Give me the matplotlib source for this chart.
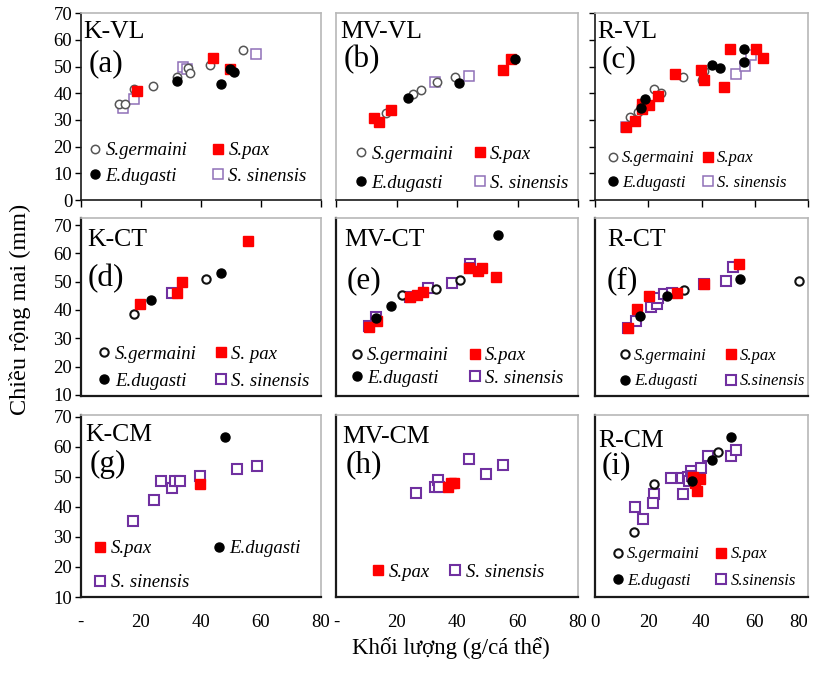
import matplotlib
matplotlib.use('Agg')
import matplotlib.pyplot as plt
from matplotlib.ticker import FixedLocator

plt.rcParams['font.family'] = ['Liberation Serif', 'DejaVu Serif']

# ---- data: (weight g, carapace width mm) ----
kvl_ger = [(12.7, 36.0), (14.9, 36.0), (17.7, 41.6), (24.0, 42.9), (32.2, 46.0),
           (35.6, 49.4), (36.4, 47.6), (43.2, 50.5), (54.0, 56.1)]
kvl_pax = [(18.9, 41.0), (44.0, 53.1), (49.6, 49.2)]
kvl_dug = [(32.1, 44.6), (46.8, 43.5), (49.7, 49.1), (51.1, 47.9)]
kvl_sin = [(14.3, 34.6), (17.8, 37.9), (34.2, 50.0), (35.4, 49.0), (58.4, 54.9)]

mvvl_ger = [(16.4, 32.7), (25.6, 39.9), (28.0, 41.1), (33.3, 44.3), (39.3, 46.2)]
mvvl_pax = [(12.7, 30.9), (14.2, 29.4), (18.1, 33.9), (55.3, 48.6), (57.9, 53.0)]
mvvl_dug = [(23.8, 38.1), (40.8, 44.0), (59.2, 53.0)]
mvvl_sin = [(32.7, 44.3), (43.9, 46.5)]

rvl_ger = [(13.2, 31.0), (16.0, 32.9), (22.0, 41.6), (24.8, 40.0), (33.0, 46.0),
           (40.9, 48.4), (40.3, 45.0)]
rvl_pax = [(11.6, 27.5), (15.1, 29.8), (17.6, 34.0), (17.6, 35.9), (20.4, 35.7),
           (23.5, 39.1), (30.2, 47.3), (39.9, 48.7), (40.9, 45.0), (48.4, 42.5),
           (50.8, 56.6), (60.3, 56.6), (63.1, 53.1)]
rvl_dug = [(17.2, 34.4), (18.9, 37.9), (43.9, 50.6), (47.0, 49.6), (55.8, 56.7), (55.8, 51.9)]
rvl_sin = [(11.6, 27.5), (53.1, 47.1), (56.2, 50.4), (58.7, 54.4)]

kct_ger = [(17.8, 38.6), (41.7, 51.0)]
kct_pax = [(19.7, 42.0), (32.2, 46.1), (33.7, 50.0), (55.6, 64.5)]
kct_dug = [(23.3, 43.5), (46.9, 53.2)]
kct_sin = [(30.6, 46.1)]

mvct_ger = [(21.7, 45.3), (33.1, 47.4), (41.0, 50.6)]
mvct_pax = [(11.0, 34.0), (13.6, 36.2), (24.3, 44.5), (26.7, 45.3), (28.7, 46.4),
            (44.1, 55.0), (47.1, 53.7), (48.4, 54.9), (52.9, 51.5)]
mvct_dug = [(13.2, 37.0), (18.1, 41.4), (53.4, 66.5)]
mvct_sin = [(11.0, 34.2), (13.2, 37.4), (24.3, 44.4), (30.5, 47.6), (38.5, 49.6),
            (44.3, 56.1), (44.2, 54.8)]

rct_ger = [(33.4, 47.0), (76.7, 50.1)]
rct_pax = [(12.5, 33.7), (15.6, 40.2), (20.3, 44.9), (30.7, 45.9), (40.9, 49.0), (53.9, 56.1)]
rct_dug = [(16.8, 37.8), (27.0, 44.9), (54.3, 51.1)]
rct_sin = [(12.5, 33.7), (15.3, 36.1), (21.0, 41.2), (23.2, 42.0), (23.7, 44.3),
           (25.9, 45.5), (29.0, 45.9), (40.9, 49.0), (49.3, 50.2), (51.7, 55.2)]

kcm_pax = [(39.8, 47.5)]
kcm_dug = [(48.1, 63.2)]
kcm_sin = [(17.6, 35.3), (24.4, 42.3), (26.7, 48.5), (30.3, 46.4), (31.3, 48.5),
           (33.1, 48.5), (39.7, 50.4), (51.9, 52.6), (58.7, 53.5)]

mvcm_pax = [(37.0, 46.7), (38.1, 47.8), (38.9, 48.0)]
mvcm_sin = [(26.4, 44.7), (32.8, 46.7), (33.7, 49.1), (33.9, 46.7), (44.1, 56.0),
            (49.7, 50.8), (55.2, 54.0)]

rcm_ger = [(14.7, 31.7), (22.0, 47.5), (46.2, 58.1)]
rcm_pax = [(38.3, 45.3), (39.3, 49.3), (37.4, 48.0), (36.8, 50.0)]
rcm_dug = [(50.9, 63.4), (44.1, 55.7), (36.4, 48.5)]
rcm_sin = [(15.1, 40.1), (18.0, 36.1), (22.0, 44.2), (21.8, 41.2), (28.6, 49.7),
           (32.6, 49.7), (33.0, 44.2), (35.1, 50.0), (36.1, 51.8), (35.3, 48.5),
           (36.5, 50.3), (39.8, 53.0), (42.5, 57.0), (51.0, 57.0), (52.9, 59.0)]

panel_names = ['K-VL', 'MV-VL', 'R-VL', 'K-CT', 'MV-CT', 'R-CT', 'K-CM', 'MV-CM', 'R-CM']
panel_letters = ['(a)', '(b)', '(c)', '(d)', '(e)', '(f)', '(g)', '(h)', '(i)']

# series per panel, in legend order (matplotlib fills legend column by column)
panel_series = [
    [('ger', kvl_ger, 'S.germaini'), ('dug', kvl_dug, 'E.dugasti'),
     ('pax', kvl_pax, 'S.pax'), ('sin', kvl_sin, 'S. sinensis')],
    [('ger', mvvl_ger, 'S.germaini'), ('dug', mvvl_dug, 'E.dugasti'),
     ('pax', mvvl_pax, 'S.pax'), ('sin', mvvl_sin, 'S. sinensis')],
    [('ger', rvl_ger, 'S.germaini'), ('dug', rvl_dug, 'E.dugasti'),
     ('pax', rvl_pax, 'S.pax'), ('sin', rvl_sin, 'S. sinensis')],
    [('ger', kct_ger, 'S.germaini'), ('dug', kct_dug, 'E.dugasti'),
     ('pax', kct_pax, 'S. pax'), ('sin', kct_sin, 'S. sinensis')],
    [('ger', mvct_ger, 'S.germaini'), ('dug', mvct_dug, 'E.dugasti'),
     ('pax', mvct_pax, 'S.pax'), ('sin', mvct_sin, 'S. sinensis')],
    [('ger', rct_ger, 'S.germaini'), ('dug', rct_dug, 'E.dugasti'),
     ('pax', rct_pax, 'S.pax'), ('sin', rct_sin, 'S.sinensis')],
    [('pax', kcm_pax, 'S.pax'), ('sin', kcm_sin, 'S. sinensis'),
     ('dug', kcm_dug, 'E.dugasti')],
    [('pax', mvcm_pax, 'S.pax'), ('sin', mvcm_sin, 'S. sinensis')],
    [('ger', rcm_ger, 'S.germaini'), ('dug', rcm_dug, 'E.dugasti'),
     ('pax', rcm_pax, 'S.pax'), ('sin', rcm_sin, 'S.sinensis')],
]

x_ticks = [0, 20, 40, 60, 80]
x_labels_dash = ['-', '20', '40', '60', '80']
x_labels_zero = ['0', '20', '40', '60', '80']

# ---- layout (pixels of an 815x673 canvas) ----
W, H = 815, 673
col_px = [(80.5, 321), (336, 578), (595, 808)]
row_px = [(13.3, 200), (218, 396.2), (415.2, 597)]
row_ylim = [(0, 70), (9.5, 72.5), (10, 70.5)]
row_yticks = [range(0, 71, 10), range(10, 71, 10), range(10, 71, 10)]
# (name x, name y, letter x, letter y) in axes fraction
text_pos = [(0.01, 0.96, 0.035, 0.81), (0.017, 0.96, 0.03, 0.83), (0.01, 0.96, 0.03, 0.83),
            (0.03, 0.94, 0.03, 0.74), (0.033, 0.94, 0.045, 0.73), (0.06, 0.94, 0.055, 0.73),
            (0.02, 0.95, 0.04, 0.81), (0.025, 0.94, 0.04, 0.81), (0.014, 0.92, 0.033, 0.80)]
# legend: (anchor x, anchor y, column spacing, label spacing)
legend_pos = [(0.015, 0.05, 1.33, 0.47), (0.057, 0.014, 1.12, 0.63), (0.036, 0.02, 0.48, 0.53),
              (0.053, 0.004, 1.0, 0.52), (0.04, 0.02, 1.07, 0.31), (0.092, 0.01, 1.14, 0.59),
              (0.036, 0.0, 1.28, 0.9), (0.127, 0.058, 1.07, 0.5), (0.06, 0.015, 1.0, 0.65)]

def style(kind, row):
    if kind == 'ger':
        ec = '#555555' if row == 0 else '#111111'
        return dict(marker='o', ms=6, mfc='white', mec=ec, mew=1.1 if row == 0 else 1.5, ls='none')
    if kind == 'pax':
        return dict(marker='s', ms=6.5, mfc='#ff0000', mec='#ff0000', ls='none')
    if kind == 'dug':
        return dict(marker='o', ms=6.5, mfc='black', mec='black', ls='none')
    ec = '#9070b8' if row == 0 else '#7030a0'
    return dict(marker='s', ms=6.5, mfc='white', mec=ec, mew=1.1 if row == 0 else 1.5, ls='none')

fig = plt.figure(figsize=(W / 100, H / 100), dpi=100)
grid_col = '#9fc5e0'

for i in range(9):
    r, c = divmod(i, 3)
    x0, x1 = col_px[c]
    y0, y1 = row_px[r]
    ax = fig.add_axes([x0 / W, 1 - y1 / H, (x1 - x0) / W, (y1 - y0) / H])
    ax.set_xlim(0, 80)
    ax.set_ylim(*row_ylim[r])

    # draw species (S. sinensis under the red squares where they overlap)
    order = sorted(panel_series[i], key=lambda s: {'sin': 0, 'ger': 1, 'pax': 2, 'dug': 3}[s[0]])
    handles = {}
    for kind, pts, lab in order:
        xs = [p[0] for p in pts]
        ys = [p[1] for p in pts]
        h, = ax.plot(xs, ys, label=lab, zorder=3, **style(kind, r))
        handles[lab] = h
    labs = [s[2] for s in panel_series[i]]
    hs = [handles[l] for l in labs]

    lx0, ly0, cs, ls = legend_pos[i]
    ax.legend(hs, labs, ncol=2, loc='lower left', bbox_to_anchor=(lx0, ly0),
              frameon=False, prop={'style': 'italic', 'size': 12 if c == 2 else 13.5},
              handlelength=0.6, handletextpad=0.25, columnspacing=cs,
              labelspacing=ls, borderpad=0.2, borderaxespad=0.1)

    # dashed guide grid
    ax.xaxis.set_major_locator(FixedLocator(x_ticks))
    ax.yaxis.set_major_locator(FixedLocator(list(row_yticks[r])))
    ax.xaxis.set_minor_locator(FixedLocator([20, 40, 60]))
    ax.yaxis.set_minor_locator(FixedLocator([30, 60]))
    ax.grid(False)
    ax.grid(True, which='minor', color=grid_col, ls=(0, (3, 3)), lw=0.9, zorder=0)
    ax.tick_params(which='minor', length=0)

    # ticks and labels
    ax.tick_params(axis='both', which='major', labelsize=13.5, direction='out', length=4, width=1)
    if c == 0:
        ax.tick_params(axis='y', labelleft=True, pad=2)
    else:
        ax.tick_params(axis='y', labelleft=False, length=4 if (r == 0 and c == 2) else 0)
    if r == 0:
        ax.tick_params(axis='x', labelbottom=False, length=5)
    elif r == 1:
        ax.tick_params(axis='x', labelbottom=False, length=0)
    else:
        ax.tick_params(axis='x', length=0, pad=12)
        tl = ax.set_xticklabels(x_labels_zero if c == 2 else x_labels_dash)
        if c == 2:
            tl[-1].set_ha('right')

    for side in ('top', 'right'):
        ax.spines[side].set_color('#b8b8b8')
        ax.spines[side].set_linewidth(1.2)
    for side in ('left', 'bottom'):
        ax.spines[side].set_color('#1a1a1a')
        ax.spines[side].set_linewidth(1.6 if r > 0 else 1.2)
    if r == 0 and c == 1:
        ax.spines['left'].set_color('#b8b8b8')

    nx, ny, lx, ly = text_pos[i]
    ax.text(nx, ny, panel_names[i], transform=ax.transAxes, va='top', ha='left', fontsize=18.5)
    ax.text(lx, ly, panel_letters[i], transform=ax.transAxes, va='top', ha='left', fontsize=22.5)

fig.text(0.024, 0.54, 'Chiều rộng mai (mm)', rotation=90, va='center', ha='center', fontsize=17.5)
fig.text(0.553, 0.037, 'Khối lượng (g/cá thể)', va='center', ha='center', fontsize=16.5)

fig.savefig('out.png', dpi=100)
